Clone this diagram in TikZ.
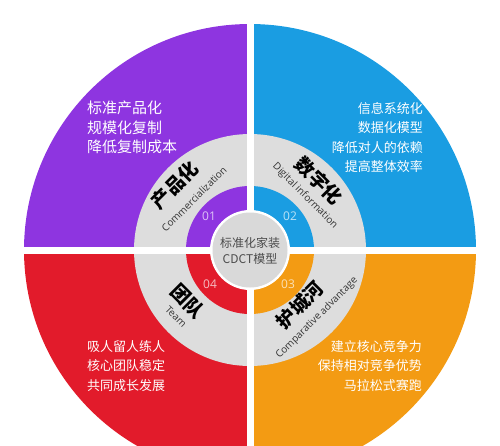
\documentclass[tikz,border=0pt]{standalone}
\usepackage{fontspec}
\newfontfamily\cjk{Noto Sans CJK SC}
\newfontfamily\osans{Open Sans}
\definecolor{cpurple}{HTML}{8E35E0}
\definecolor{cblue}{HTML}{1A9DE2}
\definecolor{cred}{HTML}{E21B2B}
\definecolor{corange}{HTML}{F39B13}
\definecolor{ringgray}{HTML}{DDDDDD}
\definecolor{centergray}{HTML}{D9D9D9}
\begin{document}
\begin{tikzpicture}[x=1pt,y=1pt,
  outertext/.style={text=white,inner sep=0pt},
  titletext/.style={font=\cjk\bfseries\fontsize{19}{19}\selectfont,text=black,inner sep=0pt},
  engtext/.style={font=\osans\fontsize{10}{10}\selectfont,text=black!80,inner sep=0pt},
  numtext/.style={font=\osans\fontsize{12}{12}\selectfont,inner sep=0pt}]
\useasboundingbox (-250,-195) rectangle (250,250);
\clip (-250,-195) rectangle (250,250);
% outer quarters
\fill[cpurple] (0,0) -- (180:226) arc[start angle=180,end angle=90,radius=226] -- cycle;
\fill[cblue] (0,0) -- (90:226) arc[start angle=90,end angle=0,radius=226] -- cycle;
\fill[corange] (0,0) -- (0:226) arc[start angle=0,end angle=-90,radius=226] -- cycle;
\fill[cred] (0,0) -- (-90:226) arc[start angle=-90,end angle=-180,radius=226] -- cycle;
% gray ring
\fill[ringgray] (0,0) circle[radius=116];
% inner coloured quarters
\fill[cpurple] (0,0) -- (180:64) arc[start angle=180,end angle=90,radius=64] -- cycle;
\fill[cblue] (0,0) -- (90:64) arc[start angle=90,end angle=0,radius=64] -- cycle;
\fill[corange] (0,0) -- (0:64) arc[start angle=0,end angle=-90,radius=64] -- cycle;
\fill[cred] (0,0) -- (-90:64) arc[start angle=-90,end angle=-180,radius=64] -- cycle;
% white cross
\fill[white] (-3.5,-200) rectangle (3.5,240);
\fill[white] (-240,-3.5) rectangle (240,3.5);
% centre disc
\fill[white] (0,0) circle[radius=40];
\fill[centergray] (0,0) circle[radius=37.5];
\node[font=\cjk\fontsize{12}{16.5}\selectfont,text=black!70,align=center,inner sep=0pt] (core) at (0,-1) {标准化家装\\CDCT模型};
% numbers
\node[numtext,text=white!70!cpurple] (n1) at (-41,34) {01};
\node[numtext,text=white!70!cblue] (n2) at (40,34) {02};
\node[numtext,text=white!70!corange] (n3) at (38,-34) {03};
\node[numtext,text=white!70!cred] (n4) at (-40,-34) {04};
% ring labels
\node[titletext,rotate=45] (t1) at (-75,65) {产品化};
\node[engtext,rotate=45] (e1) at (-56,51) {Commercialization};
\node[titletext,rotate=-45] (t2) at (69,69) {数字化};
\node[engtext,rotate=-45] (e2) at (55,54) {Digital information};
\node[titletext,rotate=45] (t3) at (50,-55) {护城河};
\node[engtext,rotate=45] (e3) at (67,-68) {Comparative advantage};
\node[titletext,rotate=-45] (t4) at (-62,-51) {团队};
\node[engtext,rotate=-45] (e4) at (-74,-67) {Team};
% outer texts
\node[outertext,anchor=west,align=left,font=\cjk\fontsize{15}{19.5}\selectfont] (p1) at (-163,122.5) {标准产品化\\规模化复制\\降低复制成本};
\node[outertext,anchor=east,align=right,font=\cjk\fontsize{13}{19.5}\selectfont] (p2) at (173,112.5) {信息系统化\\数据化模型\\降低对人的依赖\\提高整体效率};
\node[outertext,anchor=east,align=right,font=\cjk\fontsize{13}{19.5}\selectfont] (p3) at (172,-116) {建立核心竞争力\\保持相对竞争优势\\马拉松式赛跑};
\node[outertext,anchor=west,align=left,font=\cjk\fontsize{13}{19.5}\selectfont] (p4) at (-163,-116) {吸人留人练人\\核心团队稳定\\共同成长发展};
\end{tikzpicture}
\end{document}
